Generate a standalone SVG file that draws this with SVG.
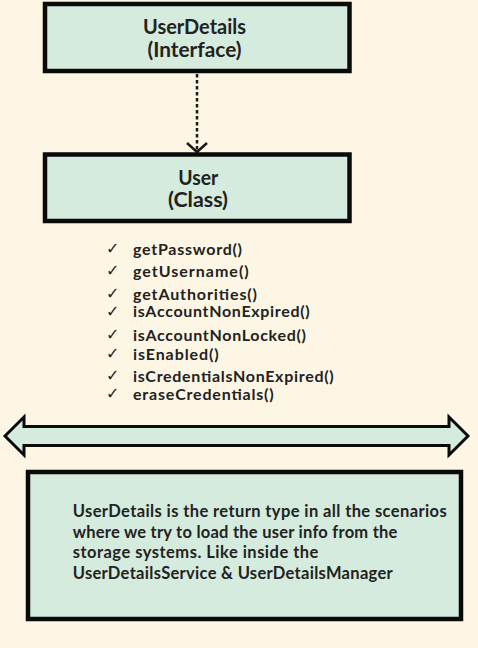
<svg xmlns="http://www.w3.org/2000/svg" width="478" height="648" viewBox="0 0 478 648">
  <defs>
    <style>
      .box { fill: #D5EBDD; stroke: #0a0a0a; stroke-width: 4.5; }
      .title { font-family: Lato, "Liberation Sans", sans-serif; font-weight: bold; font-size: 20px; fill: #222; text-anchor: middle; }
      .method { font-family: Lato, "Liberation Sans", sans-serif; font-weight: bold; font-size: 16px; fill: #222; }
      .tick { font-family: "DejaVu Sans", sans-serif; font-size: 16px; fill: #222; }
      .note { font-family: Lato, "Liberation Sans", sans-serif; font-weight: bold; font-size: 16.5px; fill: #222; }
      .dep { fill: none; stroke: #1a1a1a; stroke-width: 2.5; }
    </style>
  </defs>
  <rect x="0" y="0" width="478" height="648" fill="#FEF6E4"/>

  <!-- dependency connector: User realizes UserDetails -->
  <g id="connectors">
    <line class="dep" x1="197" y1="74" x2="197" y2="150" stroke-dasharray="3.5 2.5"/>
    <polyline class="dep" points="187,143 197,152 207,143"/>
  </g>

  <g id="node-userdetails">
    <rect class="box" x="45" y="4" width="304.5" height="67"/>
    <text class="title" x="194.5" y="34" textLength="103" lengthAdjust="spacingAndGlyphs">UserDetails</text>
    <text class="title" x="194.5" y="57" textLength="94" lengthAdjust="spacingAndGlyphs">(Interface)</text>
  </g>

  <g id="node-user">
    <rect class="box" x="45" y="154.5" width="304.5" height="66.5"/>
    <text class="title" x="198.3" y="185" textLength="40" lengthAdjust="spacingAndGlyphs">User</text>
    <text class="title" x="198" y="207" textLength="60" lengthAdjust="spacingAndGlyphs">(Class)</text>
  </g>

  <g id="methods">
    <text class="tick" x="106" y="254">✓</text><text class="method" x="133" y="255" textLength="109">getPassword()</text>
    <text class="tick" x="106" y="276">✓</text><text class="method" x="133" y="277" textLength="115.7">getUsername()</text>
    <text class="tick" x="106" y="299">✓</text><text class="method" x="133" y="299.5" textLength="124">getAuthorities()</text>
    <text class="tick" x="106" y="316.5">✓</text><text class="method" x="133" y="317" textLength="176.7">isAccountNonExpired()</text>
    <text class="tick" x="106" y="340">✓</text><text class="method" x="133" y="340.5" textLength="173">isAccountNonLocked()</text>
    <text class="tick" x="106" y="359">✓</text><text class="method" x="133" y="359.5" textLength="85.7">isEnabled()</text>
    <text class="tick" x="106" y="380.5">✓</text><text class="method" x="133" y="381.5" textLength="200.7">isCredentialsNonExpired()</text>
    <text class="tick" x="106" y="398.5">✓</text><text class="method" x="133" y="399.5" textLength="140.7">eraseCredentials()</text>
  </g>

  <g id="double-arrow">
    <polygon points="5,436 24,417 24,426.5 449,426.5 449,417 468,436 449,455 449,445.5 24,445.5 24,455"
             fill="#D5EBDD" stroke="#0a0a0a" stroke-width="3" stroke-linejoin="miter"/>
  </g>

  <g id="node-note">
    <rect class="box" x="28" y="472" width="433" height="147" stroke-width="4"/>
    <text class="note" x="72.7" y="516.5" textLength="374">UserDetails is the return type in all the scenarios</text>
    <text class="note" x="72.7" y="537.5" textLength="324.7">where we try to load the user info from the</text>
    <text class="note" x="72.7" y="557.5" textLength="245.7">storage systems. Like inside the</text>
    <text class="note" x="72.7" y="578.5" textLength="320">UserDetailsService &amp; UserDetailsManager</text>
  </g>
</svg>
